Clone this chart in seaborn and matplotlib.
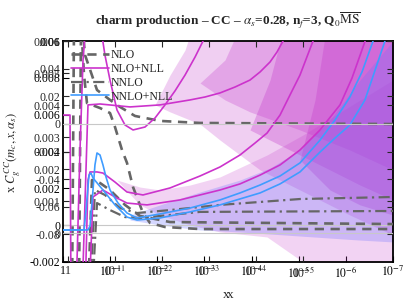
import numpy as np
import pandas as pd
import matplotlib
matplotlib.use("Agg")
import matplotlib.pyplot as plt
import seaborn as sns
from matplotlib.lines import Line2D
from matplotlib.ticker import FixedLocator, NullLocator

sns.set_theme(style="ticks")
plt.rcParams['font.family'] = ['Liberation Serif', 'DejaVu Serif']
plt.rcParams['mathtext.fontset'] = 'stix'

E = 1e-3  # curve values below are in units of 1e-3

# ---- curves (x, y) ----
bl1_x = [1, 0.295, 0.267, 0.231, 0.210, 0.190, 0.164, 0.142, 0.1225, 0.1007, 0.0681, 0.0439, 0.0269,
         0.00875, 0.00202, 4.67e-4, 1.76e-4, 6.6e-5, 2.49e-5, 9.4e-6, 3.53e-6, 1.70e-6, 8.2e-7, 4.54e-7, 2.65e-7, 1e-7]
bl1_y = [-0.26, -0.26, -0.04, 1.91, 3.27, 3.92, 3.81, 3.27, 2.62, 1.91, 1.20, 0.66, 0.39,
         0.61, 0.93, 1.37, 1.75, 2.18, 2.67, 3.38, 4.62, 5.71, 6.96, 8.32, 10.0, 12.5]
bl2_x = [1, 0.358, 0.325, 0.281, 0.255, 0.231, 0.142, 0.0789, 0.0439, 0.0269, 0.00875, 0.00202, 4.67e-4,
         6.6e-5, 2.49e-5, 9.4e-6, 3.53e-6, 1.70e-6, 8.2e-7, 3.93e-7, 1.48e-7, 1e-7]
bl2_y = [-0.26, -0.26, 0.82, 2.72, 2.83, 2.56, 1.91, 1.10, 0.44, 0.28, 0.39, 0.72, 1.10,
         1.75, 2.24, 2.89, 3.97, 4.73, 5.44, 6.80, 10.0, 12.0]

m1_x = [0.530, 0.436, 0.376, 0.325, 0.164, 0.129, 0.1007, 0.0715, 0.0484, 0.0327, 0.0182, 0.01117, 0.00686,
        4.21e-3, 0.00258, 1.58e-3, 0.00107, 5.97e-4]
m1_y = [-4.0, 4.08, 8.97, 11.0, 11.0, 9.24, 7.88, 6.25, 5.44, 5.17, 5.33, 5.82, 6.53,
        7.29, 8.15, 9.13, 10.0, 11.5]
m2_x = [1, 0.710, 0.677, 0.395, 0.295, 0.164, 0.0379, 0.00875, 0.00202, 9.7e-4, 4.67e-4, 2.25e-4, 1.08e-4,
        6.6e-5, 4.06e-5, 2.89e-5, 2.15e-5, 1.2e-5]
m2_y = [5.98, 5.98, -4.0, -4.0, 6.53, 6.58, 6.42, 6.53, 6.80, 6.96, 7.18, 7.50, 7.88,
        8.32, 8.86, 9.40, 10.0, 11.5]
m3_x = [0.341, 0.295, 0.267, 0.190, 0.142, 0.0789, 0.0439, 0.0201, 0.00537, 0.00124, 4.67e-4, 1.76e-4,
        8.45e-5, 4.7e-5, 2.49e-5, 1.53e-5, 9.4e-6, 4.97e-6, 2.77e-6]
m3_y = [-4.0, 2.45, 2.89, 2.89, 2.83, 2.34, 1.80, 1.64, 2.02, 2.67, 3.16, 3.81,
        4.46, 5.00, 5.98, 7.07, 8.15, 10.0, 11.5]
m4_x = [0.281, 0.231, 0.142, 0.0789, 0.0439, 0.0165, 0.0033, 4.67e-4, 1.76e-4, 6.6e-5, 2.49e-5, 9.4e-6,
        3.53e-6, 1.33e-6, 7.4e-7, 3.9e-7, 2.4e-7]
m4_y = [-4.0, 1.53, 1.91, 1.53, 1.20, 1.10, 1.37, 1.91, 2.24, 2.72, 3.27, 4.08,
        5.17, 6.53, 7.99, 10.0, 11.5]

d1_x = [0.644, 0.584, 0.395, 0.341, 0.190, 0.1007, 0.0618, 0.0297, 0.00875, 0.00124, 1e-7]
d1_y = [-4.0, 11.0, 11.0, 9.24, 7.34, 6.80, 6.42, 5.93, 5.66, 5.55, 5.49]
d2_x = [0.458, 0.415, 0.358, 0.310, 0.164, 0.1007, 0.0789, 0.056, 0.0439, 0.0327, 0.0201, 0.01427, 0.00686, 0.00124, 1e-7]
d2_y = [-4.0, 11.0, 8.15, 6.63, 6.36, 6.09, 5.33, 4.08, 3.38, 2.07, 0.66, 0.12, -0.10, -0.21, -0.21]
d3_x = [0.295, 0.243, 0.164, 0.1007, 0.0484, 0.0233, 0.00537, 1e-7]
d3_y = [-4.0, 2.45, 2.29, 1.91, 1.10, 0.50, 0.17, 0.06]

dd1_x = [0.267, 0.210, 0.129, 0.0618, 0.0269, 0.00537, 4.67e-4, 9.4e-6, 1e-7]
dd1_y = [-4.0, 1.91, 1.64, 0.93, 0.66, 0.82, 1.10, 1.42, 1.53]
dd2_x = [0.243, 0.190, 0.1007, 0.0484, 0.0233, 0.00124, 1e-7]
dd2_y = [-4.0, 1.20, 0.82, 0.44, 0.39, 0.72, 0.77]

# ---- uncertainty bands (x, low, high) ----
ub1_x = [0.01117, 0.00537, 0.00258, 0.00124, 4.67e-4, 6.6e-5, 9.4e-6, 8.2e-7, 1e-7]
ub1_lo = [6.53, 6.15, 5.82, 5.49, 4.62, 3.00, 1.91, 0.55, -0.53]
ub1_hi = [6.53, 8.15, 9.51, 12, 12, 12, 12, 12, 12]
ub2_x = [0.00124, 3.66e-4, 1.08e-4, 9.4e-6, 8.2e-7, 1e-7]
ub2_lo = [7.72, 6.80, 6.15, 5.17, 4.08, 3.00]
ub2_hi = [7.72, 8.97, 12, 12, 12, 12]
ub3_x = [1.08e-4, 4.06e-5, 1.53e-5, 3.53e-6, 5.0e-7, 1e-7]
ub3_lo = [5.17, 4.62, 4.08, 3.27, 2.18, 1.37]
ub3_hi = [5.17, 7.88, 12, 12, 12, 12]
ub4_x = [9.4e-6, 4.51e-6, 2.17e-6, 5.0e-7, 1e-7]
ub4_lo = [3.54, 2.72, 1.91, 1.10, 0.55]
ub4_hi = [3.54, 6.80, 12, 12, 12]
lb1_x = [0.0715, 0.0233, 0.00875, 0.00202, 4.67e-4, 4.7e-5, 8.1e-6, 1e-7]
lb1_lo = [2.45, 1.10, 0.55, 0.01, -0.37, -0.64, -2.0, -4.0]
lb1_hi = [2.45, 2.07, 1.91, 2.18, 2.62, 3.81, 4.90, 7.88]
bb_x = [0.0379, 0.00875, 0.00124, 1.76e-4, 4.06e-5, 9.4e-6, 2.17e-6, 5.0e-7, 1e-7]
bb_lo = [0.28, 0.01, -0.26, -0.37, -0.48, -0.59, -0.70, -0.81, -0.91]
bb_hi = [0.55, 1.10, 1.80, 2.45, 3.10, 4.08, 5.71, 7.88, 10.0]

# ---- axes tick values / labels ----
x_ticks = [1, 1e-1, 1e-2, 1e-3, 1e-4, 1e-5, 1e-6, 1e-7]
x_labels = ['1', r'$10^{-1}$', r'$10^{-2}$', r'$10^{-3}$', r'$10^{-4}$', r'$10^{-5}$', r'$10^{-6}$', r'$10^{-7}$']
y3_ticks = [-0.002, 0, 0.002, 0.004, 0.006, 0.008, 0.01]
y3_labels = ['-0.002', '0', '0.002', '0.004', '0.006', '0.008', '0.01']
y2_ticks = [0, 0.001, 0.002, 0.003, 0.004, 0.005, 0.006]
y2_labels = ['0', '0.001', '0.002', '0.003', '0.004', '0.005', '0.006']
y1_ticks = [-0.08, -0.06, -0.04, -0.02, 0, 0.02, 0.04, 0.06]
y1_labels = ['-0.08', '-0.06', '-0.04', '-0.02', '0', '0.02', '0.04', '0.06']

MAG = '#cc33cc'
BLUE = '#3f9cff'
GRAY = '#666666'
BANDM = '#c43acb'
BANDB = '#6a70ff'

fig = plt.figure(figsize=(4.11, 3.04), dpi=100)
pos = [63/411, 42/304, 330/411, 221/304]
ax = fig.add_axes(pos)

def arr(v):
    return np.array(v) * E

for bx, lo, hi, col, a in [
    (ub1_x, ub1_lo, ub1_hi, BANDM, 0.24),
    (ub2_x, ub2_lo, ub2_hi, BANDM, 0.28),
    (ub3_x, ub3_lo, ub3_hi, BANDM, 0.32),
    (ub4_x, ub4_lo, ub4_hi, BANDM, 0.32),
    (lb1_x, lb1_lo, lb1_hi, BANDM, 0.22),
    (bb_x, bb_lo, bb_hi, BANDB, 0.28),
]:
    ax.fill_between(bx, arr(lo), arr(hi), color=col, alpha=a, lw=0, zorder=1)

ax.axhline(0, color='#c8c8c8', lw=0.8, zorder=1.5)

def line(xs, ys, color, ls, lw):
    df = pd.DataFrame({'x': xs, 'y': arr(ys)})
    sns.lineplot(data=df, x='x', y='y', ax=ax, sort=False, estimator=None,
                 color=color, linestyle=ls, lw=lw, zorder=3)

dash = (0, (3.5, 2.5))
dashdot = (0, (5, 2, 1, 2))
line(d1_x, d1_y, GRAY, dash, 1.9)
line(d2_x, d2_y, GRAY, dash, 1.9)
line(d3_x, d3_y, GRAY, dash, 1.9)
line(dd1_x, dd1_y, GRAY, dashdot, 1.6)
line(dd2_x, dd2_y, GRAY, dashdot, 1.6)
line(m1_x, m1_y, MAG, '-', 1.2)
line(m2_x, m2_y, MAG, '-', 1.2)
line(m3_x, m3_y, MAG, '-', 1.2)
line(m4_x, m4_y, MAG, '-', 1.2)
line(bl1_x, bl1_y, BLUE, '-', 1.2)
line(bl2_x, bl2_y, BLUE, '-', 1.2)

ax.set_xscale('log')
ax.set_xlim(1, 1e-7)
ax.set_ylim(-0.002, 0.01)
ax.set_xlabel('')
ax.set_ylabel('')
ax.xaxis.set_major_locator(FixedLocator(x_ticks))
ax.xaxis.set_minor_locator(NullLocator())
ax.set_xticklabels(x_labels)
ax.set_yticks(y3_ticks)
ax.set_yticklabels(y3_labels)
ax.tick_params(axis='both', direction='in', top=True, right=True, length=4,
               width=0.8, labelsize=8.5, colors='black', pad=2)
for s in ax.spines.values():
    s.set_linewidth(1.3)
    s.set_color('black')

# overlaid axes (other panels' y scales)
for lims, tk, lb in [((-0.000906, 0.006), y2_ticks, y2_labels),
                     ((-0.1, 0.06), y1_ticks, y1_labels)]:
    t = ax.twinx()
    t.set_ylim(*lims)
    t.set_yticks(tk)
    t.set_yticklabels(lb)
    t.tick_params(axis='y', direction='in', left=True, right=True, labelleft=True,
                  labelright=False, length=4, width=0.8, labelsize=8.5, pad=2)
    t.axhline(0, color='#c8c8c8', lw=0.8, zorder=1.5)
    for s in t.spines.values():
        s.set_visible(False)

# second set of x tick labels (overlaid panel)
tx = ax.twiny()
tx.set_xscale('log')
tx.set_xlim(1.25, 1.25e-7)
tx.xaxis.set_major_locator(FixedLocator(x_ticks[:6]))
tx.xaxis.set_minor_locator(NullLocator())
tx.set_xticklabels(x_labels[:6])
tx.tick_params(axis='x', direction='in', bottom=True, top=True, labelbottom=True,
               labeltop=False, length=4, width=0.8, labelsize=8.5, pad=2)
for s in tx.spines.values():
    s.set_visible(False)

handles = [Line2D([], [], color=GRAY, ls=dash, lw=1.9),
           Line2D([], [], color=MAG, ls='-', lw=1.2),
           Line2D([], [], color=GRAY, ls=dashdot, lw=1.6),
           Line2D([], [], color=BLUE, ls='-', lw=1.2)]
leg = ax.legend(handles, ['NLO', 'NLO+NLL', 'NNLO', 'NNLO+NLL'], loc='upper left',
                bbox_to_anchor=(0.0, 1.0), frameon=False, fontsize=8.5,
                handlelength=3.2, labelspacing=0.15, handletextpad=0.1,
                borderaxespad=0.3)
leg.set_zorder(10)

fig.text(0.555, 0.935, r'charm production – CC – $\alpha_s$=0.28, n$_f$=3, Q$_0$$\overline{\rm MS}$',
         ha='center', va='center', fontsize=9.5, fontweight='bold')
fig.text(0.03, 0.50, r'x $C^{CC}_{g}(m_c,x,\alpha_s)$', rotation=90, ha='center',
         va='center', fontsize=9)
fig.text(0.551, 0.03, 'x', ha='center', va='center', fontsize=9.5)
fig.text(0.560, 0.03, 'x', ha='center', va='center', fontsize=9.5)

fig.savefig('out.png', dpi=100)
